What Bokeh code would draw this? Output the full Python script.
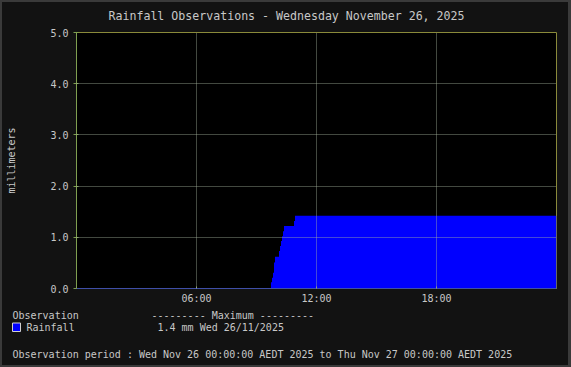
from bokeh.plotting import figure
from bokeh.models import Label, Span, FixedTicker, NumeralTickFormatter, Range1d
from bokeh.layouts import column
from bokeh.embed import file_html
from bokeh.resources import INLINE

# ---- data (hours since midnight, cumulative rainfall in mm) ----
hours = [0.0, 9.725, 9.775, 9.825, 9.875, 9.925, 10.125, 10.175, 10.225,
         10.275, 10.325, 10.375, 10.875, 10.925, 24.0]
rain_mm = [0.0, 0.12, 0.21, 0.31, 0.51, 0.62, 0.73, 0.83, 0.93,
           1.02, 1.12, 1.22, 1.32, 1.42, 1.42]

x_ticks = [6, 12, 18]
x_tick_labels = ["06:00", "12:00", "18:00"]
y_ticks = [0, 1, 2, 3, 4, 5]

title_text = "Rainfall Observations - Wednesday November 26, 2025"
y_label = "millimeters"
legend_header = "Observation"
legend_max_header = "--------- Maximum ---------"
series_name = "Rainfall"
series_max = "1.4 mm  Wed 26/11/2025"
period_text = ("Observation period : Wed Nov 26 00:00:00 AEDT 2025 to "
               "Thu Nov 27 00:00:00 AEDT 2025")

BG = "#121212"
EDGE = "#3a3a3a"
TXT = "#c8c8c8"
AXIS = "#7f9f50"
GRID = "#a8b8a0"
FONT = "DejaVu Sans Mono"
BLUE = "#0000ff"
W = 571

SIDES = (f"linear-gradient(to right, {EDGE} 0px, {EDGE} 2px, {BG} 2px, "
         f"{BG} calc(100% - 3px), {EDGE} calc(100% - 3px), {EDGE} 100%)")


def text_panel(h, edge_dir):
    f = figure(width=W, height=h, x_range=Range1d(0, W), y_range=Range1d(h, 0),
               min_border=0, output_backend="svg", toolbar_location=None,
               frame_align=False)
    f.axis.visible = False
    f.grid.visible = False
    f.outline_line_color = None
    f.background_fill_color = None
    f.border_fill_color = None
    f.styles = {"background": (f"linear-gradient({edge_dir}, {EDGE} 0px, "
                                f"{EDGE} 2px, transparent 2px), {SIDES}")}
    return f


def lab(f, text, x, y, size="10px", align="left"):
    f.add_layout(Label(x=x, y=y, text=text, text_font=FONT,
                       text_font_size=size, text_color=TXT,
                       text_align=align, text_baseline="middle"))


# ---- title strip (canvas y 0..24) ----
top = text_panel(24, "to bottom")
lab(top, title_text, 286, 15, size="11.6px", align="center")

# ---- main chart (canvas y 24..308) ----
p = figure(frame_width=480, frame_height=256,
           min_border_left=76, min_border_right=15, min_border_top=8,
           min_border_bottom=20, x_range=(0, 24), y_range=(0, 5),
           output_backend="svg", toolbar_location=None, frame_align=False)
p.background_fill_color = "#000000"
p.border_fill_color = None
p.styles = {"background": SIDES}
p.outline_line_color = "#8a8a3a"

p.varea_step(x=hours, y1=0, y2=rain_mm, step_mode="after", fill_color=BLUE)
p.add_layout(Span(location=0, dimension="width", line_color=BLUE,
                  line_width=1))

p.xaxis.ticker = FixedTicker(ticks=x_ticks)
p.xaxis.major_label_overrides = {t: l for t, l in zip(x_ticks, x_tick_labels)}
p.yaxis.ticker = FixedTicker(ticks=y_ticks)
p.yaxis.formatter = NumeralTickFormatter(format="0.0")
for ax in (p.xaxis, p.yaxis):
    ax.axis_line_color = AXIS
    ax.major_tick_line_color = AXIS
    ax.minor_tick_line_color = None
    ax.major_label_text_font = FONT
    ax.major_label_text_font_size = "10px"
    ax.major_label_text_color = TXT
p.xaxis.major_tick_in = 2
p.xaxis.major_tick_out = 0
p.xaxis.major_label_standoff = 4
p.yaxis.major_tick_in = 2
p.yaxis.major_tick_out = 3
p.yaxis.major_label_standoff = 5
p.yaxis.axis_label = y_label
p.yaxis.axis_label_text_font = FONT
p.yaxis.axis_label_text_font_size = "10px"
p.yaxis.axis_label_text_font_style = "normal"
p.yaxis.axis_label_text_color = TXT
p.yaxis.axis_label_standoff = 30

for g in (p.xgrid, p.ygrid):
    g.grid_line_color = GRID
    g.grid_line_dash = "1 1"
    g.grid_line_alpha = 0.8
    g.level = "overlay"

# ---- legend / footer strip (canvas y 308..367) ----
bot = text_panel(59, "to top")
Y0 = 308
lab(bot, legend_header, 12, 315 - Y0)
lab(bot, legend_max_header, 151, 315 - Y0)
bot.quad(left=[12], right=[20], top=[322.5 - Y0], bottom=[331 - Y0],
         fill_color=BLUE, line_color="#d0d0d0", line_width=1)
lab(bot, series_name, 26, 327 - Y0)
lab(bot, series_max, 157, 327 - Y0)
lab(bot, period_text, 12, 353.5 - Y0)

layout = column(top, p, bot, spacing=0)

open("out.html", "w").write(file_html(layout, INLINE))
